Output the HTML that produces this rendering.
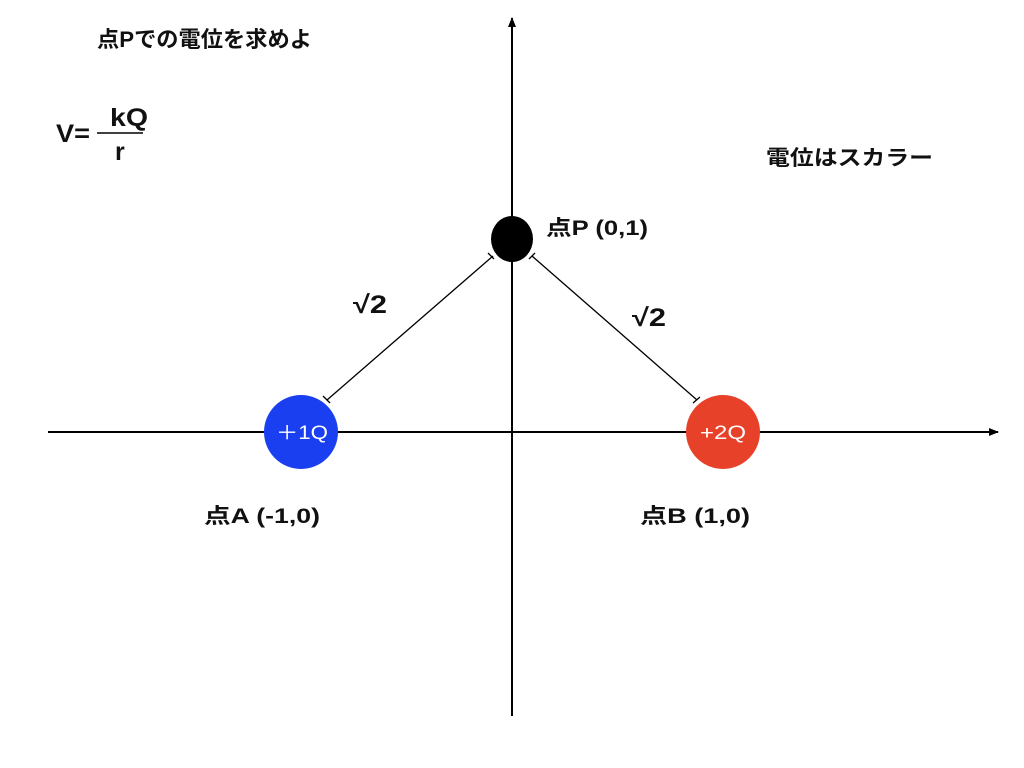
<!DOCTYPE html>
<html><head><meta charset="utf-8"><style>
html,body{margin:0;padding:0;background:#fff;}
svg{display:block}
text{font-family:"Liberation Sans","Noto Sans CJK JP",sans-serif;font-weight:bold;fill:#111}
</style></head><body>
<svg width="1024" height="768" viewBox="0 0 1024 768">
<rect width="1024" height="768" fill="#fff"/>
<defs>
<marker id="ar" markerWidth="10" markerHeight="10" refX="9" refY="5" orient="auto" markerUnits="userSpaceOnUse">
<path d="M0,1 L10,5 L0,9 Z" fill="#000"/></marker>
</defs>
<line x1="48" y1="432" x2="998" y2="432" stroke="#000" stroke-width="2" marker-end="url(#ar)"/>
<line x1="512" y1="716" x2="512" y2="18" stroke="#000" stroke-width="2" marker-end="url(#ar)"/>
<line x1="493" y1="256" x2="327" y2="400" stroke="#000" stroke-width="1.3"/>
<line x1="488" y1="253" x2="494" y2="259" stroke="#000" stroke-width="1.3"/>
<line x1="323" y1="396" x2="330" y2="403" stroke="#000" stroke-width="1.3"/>
<line x1="532" y1="256" x2="697" y2="400" stroke="#000" stroke-width="1.3"/>
<line x1="535" y1="253" x2="529" y2="259" stroke="#000" stroke-width="1.3"/>
<line x1="693" y1="403" x2="700" y2="397" stroke="#000" stroke-width="1.3"/>
<ellipse cx="512" cy="239" rx="21" ry="23" fill="#000"/>
<circle cx="301" cy="432" r="37" fill="#1a3ff0"/>
<circle cx="723" cy="432" r="37" fill="#e8412a"/>
<text x="276" y="439" font-size="19" textLength="52" lengthAdjust="spacingAndGlyphs" style="fill:#fff;font-weight:normal">＋1Q</text>
<text x="700" y="439" font-size="19" textLength="46" lengthAdjust="spacingAndGlyphs" style="fill:#fff;font-weight:normal">+2Q</text>
<text x="97" y="47" font-size="22" textLength="215" lengthAdjust="spacingAndGlyphs">点Pでの電位を求めよ</text>
<text x="56" y="142" font-size="25" textLength="34" lengthAdjust="spacingAndGlyphs">V=</text>
<text x="110" y="126" font-size="25" textLength="38" lengthAdjust="spacingAndGlyphs">kQ</text>
<line x1="97" y1="133" x2="143" y2="133" stroke="#000" stroke-width="1.5"/>
<text x="115" y="160" font-size="25">r</text>
<text x="766" y="165" font-size="21" textLength="167" lengthAdjust="spacingAndGlyphs">電位はスカラー</text>
<text x="546" y="235" font-size="21" textLength="102" lengthAdjust="spacingAndGlyphs">点P (0,1)</text>
<text x="353" y="313" font-size="25" textLength="34" lengthAdjust="spacingAndGlyphs">√2</text>
<text x="632" y="326" font-size="25" textLength="34" lengthAdjust="spacingAndGlyphs">√2</text>
<text x="204" y="523" font-size="21" textLength="116" lengthAdjust="spacingAndGlyphs">点A (-1,0)</text>
<text x="640" y="523" font-size="21" textLength="110" lengthAdjust="spacingAndGlyphs">点B (1,0)</text>
</svg>
</body></html>
